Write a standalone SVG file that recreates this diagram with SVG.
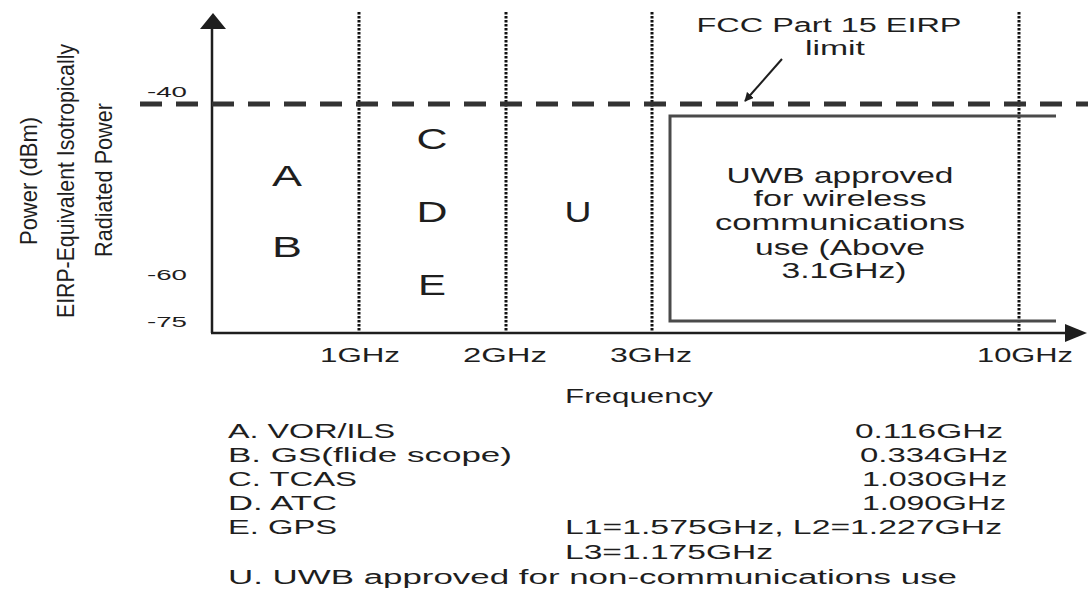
<svg xmlns="http://www.w3.org/2000/svg" width="1088" height="590" viewBox="0 0 1088 590">
<style>
text{font-family:"Liberation Sans",Arial,sans-serif;fill:#1e1e1e}
.ax{stroke:#1e1e1e;stroke-width:2.5;fill:none}
.dot{stroke:#111;stroke-width:3;stroke-dasharray:2.5 1.5;fill:none}
.lim{stroke:#333;stroke-width:5;stroke-dasharray:22 14;fill:none}
.box{stroke:#4a4a4a;stroke-width:3;fill:none}
.big{font-size:29px}
.tk{font-size:20px}
.yl{font-size:14px}
.lg{font-size:20px}
.bx{font-size:22px}
.fc{font-size:20px}
.yt{font-size:24px}
</style>
<defs>
<marker id="ah" viewBox="0 0 10 10" refX="9" refY="5" markerWidth="9" markerHeight="9" markerUnits="userSpaceOnUse" orient="auto">
<path d="M0,0 L10,5 L0,10 z" fill="#1e1e1e"/>
</marker>
</defs>
<rect width="1088" height="590" fill="#fff"/>
<g id="grid">
<line class="dot" x1="359" y1="12" x2="359" y2="333"/>
<line class="dot" x1="506" y1="12" x2="506" y2="333"/>
<line class="dot" x1="652" y1="12" x2="652" y2="333"/>
<line class="dot" x1="1019" y1="12" x2="1019" y2="333"/>
</g>
<g id="axes">
<line class="ax" x1="212" y1="333" x2="212" y2="26"/>
<polygon points="213,13 200,29 226,29" fill="#1e1e1e"/>
<line class="ax" x1="211" y1="333" x2="1068" y2="333"/>
<polygon points="1087,333 1065,324 1065,342" fill="#1e1e1e"/>
</g>
<g id="limit-line">
<line class="lim" x1="140" y1="104" x2="1088" y2="104"/>
</g>
<g id="uwb-box">
<polyline class="box" points="1056,116 670,116 670,321 1056,321"/>
<text class="bx" x="840" y="183" text-anchor="middle" textLength="227" lengthAdjust="spacingAndGlyphs">UWB approved</text>
<text class="bx" x="840" y="206" text-anchor="middle" textLength="173" lengthAdjust="spacingAndGlyphs">for wireless</text>
<text class="bx" x="840" y="230" text-anchor="middle" textLength="250" lengthAdjust="spacingAndGlyphs">communications</text>
<text class="bx" x="840" y="255" text-anchor="middle" textLength="170" lengthAdjust="spacingAndGlyphs">use (Above</text>
<text class="bx" x="844" y="278" text-anchor="middle" textLength="125" lengthAdjust="spacingAndGlyphs">3.1GHz)</text>
</g>
<g id="fcc-label">
<text class="fc" x="829" y="32" text-anchor="middle" textLength="265" lengthAdjust="spacingAndGlyphs">FCC Part 15 EIRP</text>
<text class="fc" x="835" y="55" text-anchor="middle" textLength="60" lengthAdjust="spacingAndGlyphs">limit</text>
</g>
<g id="connectors">
<line x1="782" y1="59" x2="745" y2="101" stroke="#1e1e1e" stroke-width="2" marker-end="url(#ah)"/>
</g>
<g id="band-letters">
<text class="big" x="287" y="186" text-anchor="middle" textLength="30" lengthAdjust="spacingAndGlyphs">A</text>
<text class="big" x="287" y="257" text-anchor="middle" textLength="30" lengthAdjust="spacingAndGlyphs">B</text>
<text class="big" x="432" y="149" text-anchor="middle" textLength="31" lengthAdjust="spacingAndGlyphs">C</text>
<text class="big" x="432" y="222" text-anchor="middle" textLength="31" lengthAdjust="spacingAndGlyphs">D</text>
<text class="big" x="432" y="295" text-anchor="middle" textLength="28" lengthAdjust="spacingAndGlyphs">E</text>
<text class="big" x="578" y="222" text-anchor="middle" textLength="27" lengthAdjust="spacingAndGlyphs">U</text>
</g>
<g id="y-ticks">
<text class="yl" x="147" y="97" textLength="40" lengthAdjust="spacingAndGlyphs">-40</text>
<text class="yl" x="147" y="280" textLength="40" lengthAdjust="spacingAndGlyphs">-60</text>
<text class="yl" x="147" y="327" textLength="40" lengthAdjust="spacingAndGlyphs">-75</text>
</g>
<g id="y-title">
<text class="yt" transform="translate(37,181) rotate(-90)" text-anchor="middle" textLength="128" lengthAdjust="spacingAndGlyphs">Power (dBm)</text>
<text class="yt" transform="translate(74,181) rotate(-90)" text-anchor="middle" textLength="274" lengthAdjust="spacingAndGlyphs">EIRP-Equivalent Isotropically</text>
<text class="yt" transform="translate(112,180) rotate(-90)" text-anchor="middle" textLength="154" lengthAdjust="spacingAndGlyphs">Radiated Power</text>
</g>
<g id="x-ticks">
<text class="tk" x="360" y="362" text-anchor="middle" textLength="80" lengthAdjust="spacingAndGlyphs">1GHz</text>
<text class="tk" x="505" y="362" text-anchor="middle" textLength="84" lengthAdjust="spacingAndGlyphs">2GHz</text>
<text class="tk" x="651" y="362" text-anchor="middle" textLength="82" lengthAdjust="spacingAndGlyphs">3GHz</text>
<text class="tk" x="1025" y="362" text-anchor="middle" textLength="96" lengthAdjust="spacingAndGlyphs">10GHz</text>
<text class="tk" x="639" y="403" text-anchor="middle" textLength="148" lengthAdjust="spacingAndGlyphs">Frequency</text>
</g>
<g id="legend">
<text class="lg" x="228" y="438" textLength="167" lengthAdjust="spacingAndGlyphs">A. VOR/ILS</text>
<text class="lg" x="228" y="462" textLength="284" lengthAdjust="spacingAndGlyphs">B. GS(flide scope)</text>
<text class="lg" x="228" y="486" textLength="129" lengthAdjust="spacingAndGlyphs">C. TCAS</text>
<text class="lg" x="228" y="510" textLength="109" lengthAdjust="spacingAndGlyphs">D. ATC</text>
<text class="lg" x="228" y="534" textLength="109" lengthAdjust="spacingAndGlyphs">E. GPS</text>
<text class="lg" x="228" y="584" textLength="729" lengthAdjust="spacingAndGlyphs">U. UWB approved for non-communications use</text>
<text class="lg" x="855" y="438" textLength="148" lengthAdjust="spacingAndGlyphs">0.116GHz</text>
<text class="lg" x="860" y="462" textLength="148" lengthAdjust="spacingAndGlyphs">0.334GHz</text>
<text class="lg" x="862" y="486" textLength="145" lengthAdjust="spacingAndGlyphs">1.030GHz</text>
<text class="lg" x="862" y="510" textLength="144" lengthAdjust="spacingAndGlyphs">1.090GHz</text>
<text class="lg" x="565" y="534" textLength="437" lengthAdjust="spacingAndGlyphs">L1=1.575GHz, L2=1.227GHz</text>
<text class="lg" x="565" y="559" textLength="208" lengthAdjust="spacingAndGlyphs">L3=1.175GHz</text>
</g>
</svg>
